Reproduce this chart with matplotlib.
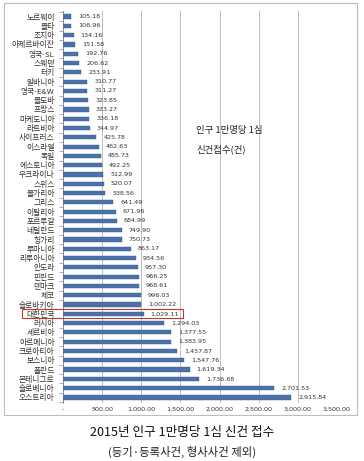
import numpy as np
import matplotlib.pyplot as plt
from matplotlib.patches import Rectangle

plt.rcParams['font.family'] = ['Noto Sans CJK KR', 'DejaVu Sans']

# countries, top to bottom
countries = ['노르웨이', '몰타', '조지아', '아제르바이잔', '영국-SL', '스웨덴', '터키',
             '알바니아', '영국-E&W', '몰도바', '프랑스', '마케도니아', '라트비아',
             '사이프러스', '이스라엘', '독일', '에스토니아', '우크라이나', '스위스',
             '불가리아', '그리스', '이탈리아', '포르투갈', '네덜란드', '헝가리',
             '루마니아', '리투아니아', '안도라', '핀란드', '덴마크', '체코',
             '슬로바키아', '대한민국', '러시아', '세르비아', '아르메니아', '크로아티아',
             '보스니아', '폴란드', '몬테니그로', '슬로베니아', '오스트리아']
values = [105.18, 106.96, 134.16, 151.58, 192.76, 206.62, 233.91, 310.77, 311.27,
          323.85, 333.27, 336.18, 344.97, 425.78, 462.63, 485.73, 492.25, 512.99,
          520.07, 538.56, 641.49, 671.96, 684.99, 749.90, 750.73, 863.17, 934.56,
          957.30, 966.25, 968.61, 996.03, 1002.22, 1029.11, 1294.03, 1377.55,
          1383.95, 1457.87, 1547.76, 1619.34, 1736.68, 2701.53, 2915.84]
xticks = [0, 500, 1000, 1500, 2000, 2500, 3000, 3500]
highlight = '대한민국'

W, H = 364, 461
fig = plt.figure(figsize=(W / 100, H / 100), dpi=100)

# outer chart frame
fig.patches.append(Rectangle((4 / W, 1 - 415 / H), 353 / W, 412 / H,
                             transform=fig.transFigure, fill=False,
                             edgecolor='#bdbdbd', lw=0.8))

ax = fig.add_axes([63 / W, 1 - 403 / H, 274 / W, 392 / H])
n = len(countries)
y = np.arange(n)
ax.barh(y, values, height=0.45, color='#4a72a8', edgecolor='#3a5f93', lw=0.3, zorder=3)

for yi, v in zip(y, values):
    ax.annotate(f'{v:,.2f}', (v, yi), xytext=(5, 0), textcoords='offset points',
                va='center', ha='left', fontsize=4.6, color='#333333',
                family='DejaVu Sans')

ax.set_ylim(n - 0.4, -0.6)
ax.set_xlim(0, 3500)
ax.set_yticks(y)
ax.set_yticklabels(countries, fontsize=5.6, color='#333333')
ax.set_yticks(np.arange(n + 1) - 0.5, minor=True)
ax.tick_params(axis='y', which='major', length=0, pad=6)
ax.tick_params(axis='y', which='minor', length=3, color='#888888', width=0.5)
ax.set_xticks(xticks)
ax.set_xticklabels(['-'] + [f'{t:,.2f}' for t in xticks[1:]], fontsize=4.6,
                   color='#333333', family='DejaVu Sans')
ax.tick_params(axis='x', length=0, pad=3)
ax.grid(axis='x', color='#bfbfbf', lw=0.7, zorder=0)
for s in ['top', 'right', 'bottom']:
    ax.spines[s].set_visible(False)
ax.spines['left'].set_color('#888888')
ax.spines['left'].set_linewidth(0.6)

# red box around the highlighted country
k = countries.index(highlight)
ax.add_patch(Rectangle((-524, k - 0.5), 2057, 1.0, fill=False, edgecolor='#c0392b',
                       lw=0.8, clip_on=False, zorder=5))

ax.text(1700, 13.3, '인구 1만명당 1심\n신건접수(건)', fontsize=6.8, color='#222222',
        ha='left', va='center', linespacing=2.2, zorder=4)

fig.text(0.5, 1 - 432 / H, '2015년 인구 1만명당 1심 신건 접수', ha='center', va='center',
         fontsize=9.1, color='#111111')
fig.text(0.5, 1 - 452 / H, '(등기·등록사건, 형사사건 제외)', ha='center', va='center',
         fontsize=8.2, color='#222222')

fig.savefig('out.png', dpi=100, facecolor='white')
